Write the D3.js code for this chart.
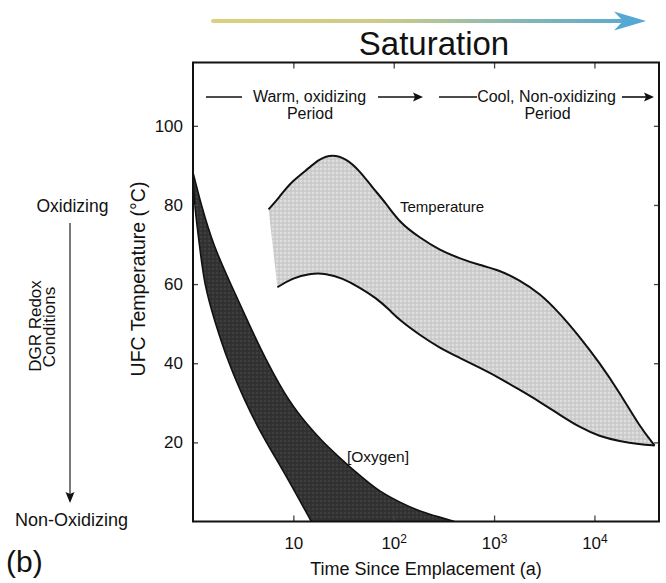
<!DOCTYPE html>
<html>
<head>
<meta charset="utf-8">
<script src="https://cdn.jsdelivr.net/npm/d3@7"></script>
<style>
  body { margin: 0; background: #fff; }
  svg { display: block; font-family: "Liberation Sans", Arial, sans-serif; }
</style>
</head>
<body>
<div id="chart"></div>
<script>
// values: [years since emplacement, value]
const tempUpper = [[5.66,78.9],[7.25,81.9],[9.12,85.4],[13.4,88.7],[18.2,91.7],[24.5,92.8],[33.6,91.7],[45.5,88.7],[61.4,84.4],[84,80.4],[114,75.6],[180,71.8],[286,68.6],[452,66.5],[715,64.8],[1132,63.5],[1791,61.0],[2838,57.7],[4487,52.7],[7110,46.7],[11250,40.1],[17820,32.6],[28200,24.0],[39800,19.2]];
const tempLower = [[6.93,59.2],[9.77,61.5],[14.5,62.7],[21.2,62.7],[30.8,61.5],[45.5,59.2],[66.7,56.5],[90.6,53.5],[114,50.9],[180,47.2],[286,43.9],[452,41.4],[715,38.9],[1057,36.7],[1791,33.3],[2838,30.3],[4487,27.0],[7110,23.8],[11250,21.5],[17820,20.3],[28200,19.5],[39800,19.2]];
const oxyUpper = [[1,88.2],[1.21,79.9],[1.59,69.8],[2.41,59.7],[3.64,49.7],[5.51,40.1],[9.12,30.1],[14.5,23.8],[19,20.5],[28.7,16.2],[36.1,13.9],[51,10.7],[72,7.6],[114,4.9],[180,2.6],[286,1.1],[403,0]];
const oxyLower = [[1,86],[1.05,78.6],[1.16,69.8],[1.30,59.7],[1.63,50.9],[2.25,40.1],[3.24,30.8],[4.80,22.0],[7.77,13.2],[10.7,6.9],[15.1,0]];

const xTicks = [10, 100, 1000, 10000];
const yTicks = [20, 40, 60, 80, 100];
const xDomain = [1, 44000];
const yDomain = [0, 116];

const width = 666;
const height = 583;
const margin = { top: 62.5, right: 7, bottom: 61.5, left: 193 };

const usableArea = {
  top: margin.top,
  right: width - margin.right,
  bottom: height - margin.bottom,
  left: margin.left,
  width: width - margin.left - margin.right,
  height: height - margin.top - margin.bottom,
};

const svg = d3.select('#chart')
  .append('svg')
  .attr('width', width)
  .attr('height', height);

const defs = svg.append('defs');

// stipple textures for the two bands
const light = defs.append('pattern').attr('id', 'light')
  .attr('width', 4).attr('height', 4).attr('patternUnits', 'userSpaceOnUse');
light.append('rect').attr('width', 4).attr('height', 4).attr('fill', '#cfcfcf');
light.append('circle').attr('cx', 1).attr('cy', 1).attr('r', 0.9).attr('fill', '#e6e6e6');
light.append('circle').attr('cx', 3).attr('cy', 3).attr('r', 0.7).attr('fill', '#bdbdbd');

const dark = defs.append('pattern').attr('id', 'dark')
  .attr('width', 4).attr('height', 4).attr('patternUnits', 'userSpaceOnUse');
dark.append('rect').attr('width', 4).attr('height', 4).attr('fill', '#333');
dark.append('circle').attr('cx', 1).attr('cy', 1).attr('r', 0.8).attr('fill', '#4d4d4d');
dark.append('circle').attr('cx', 3).attr('cy', 3).attr('r', 0.6).attr('fill', '#222');

// gradient in user space so it works on a zero-height line
const grad = defs.append('linearGradient').attr('id', 'sat')
  .attr('gradientUnits', 'userSpaceOnUse')
  .attr('x1', 213).attr('x2', 646).attr('y1', 0).attr('y2', 0);
grad.append('stop').attr('offset', '0%').attr('stop-color', '#dcd17f');
grad.append('stop').attr('offset', '40%').attr('stop-color', '#cccb87');
grad.append('stop').attr('offset', '70%').attr('stop-color', '#86b8b3');
grad.append('stop').attr('offset', '100%').attr('stop-color', '#55a7d4');

defs.append('clipPath').attr('id', 'plotClip')
  .append('rect')
  .attr('x', usableArea.left).attr('y', usableArea.top)
  .attr('width', usableArea.width).attr('height', usableArea.height);

// Scales
const xScale = d3.scaleLog().domain(xDomain).range([usableArea.left, usableArea.right]);
const yScale = d3.scaleLinear().domain(yDomain).range([usableArea.bottom, usableArea.top]);

const line = d3.line()
  .x((d) => xScale(d[0]))
  .y((d) => yScale(d[1]))
  .curve(d3.curveBasis);

function bandPath(a, b) {
  return line(a) + line(b.slice().reverse()).replace(/^M/, 'L') + 'Z';
}

const bands = svg.append('g').attr('clip-path', 'url(#plotClip)');

// Oxygen band
bands.append('path')
  .attr('d', bandPath(oxyUpper, oxyLower))
  .attr('fill', 'url(#dark)');
[oxyUpper, oxyLower].forEach((s) => {
  bands.append('path').attr('d', line(s))
    .attr('fill', 'none').attr('stroke', '#111').attr('stroke-width', 1.6);
});

// Temperature band
bands.append('path')
  .attr('d', bandPath(tempUpper, tempLower))
  .attr('fill', 'url(#light)');
[tempUpper, tempLower].forEach((s) => {
  bands.append('path').attr('d', line(s))
    .attr('fill', 'none').attr('stroke', '#111').attr('stroke-width', 2);
});

// Axes (ticks point inward)
function styleAxis(g) {
  g.select('.domain').remove();
  g.selectAll('.tick line').attr('stroke', '#444').attr('stroke-width', 1.3);
  g.selectAll('.tick text').attr('fill', '#111').style('font-size', '17px');
}

const xAxisBottom = svg.append('g')
  .attr('transform', `translate(0, ${usableArea.bottom})`)
  .call(d3.axisBottom(xScale).tickValues(xTicks).tickSize(-6).tickPadding(15))
  .call(styleAxis);

xAxisBottom.selectAll('.tick text').each(function (d) {
  const t = d3.select(this);
  const p = Math.round(Math.log10(d));
  t.text('10');
  if (p > 1) {
    t.append('tspan').attr('dy', '-0.45em').style('font-size', '12px').text(p);
  }
});

svg.append('g')
  .attr('transform', `translate(0, ${usableArea.top})`)
  .call(d3.axisTop(xScale).tickValues(xTicks).tickSize(-6).tickFormat(''))
  .call(styleAxis);

svg.append('g')
  .attr('transform', `translate(${usableArea.left}, 0)`)
  .call(d3.axisLeft(yScale).tickValues(yTicks).tickSize(-5).tickPadding(10))
  .call(styleAxis);

svg.append('g')
  .attr('transform', `translate(${usableArea.right}, 0)`)
  .call(d3.axisRight(yScale).tickValues(yTicks).tickSize(-5).tickFormat(''))
  .call(styleAxis);

// Frame
svg.append('rect')
  .attr('x', usableArea.left).attr('y', usableArea.top)
  .attr('width', usableArea.width).attr('height', usableArea.height)
  .attr('fill', 'none').attr('stroke', '#111').attr('stroke-width', 2);

// Axis titles
svg.append('text')
  .attr('x', (usableArea.left + usableArea.right) / 2)
  .attr('y', 575)
  .attr('text-anchor', 'middle')
  .style('font-size', '18px')
  .attr('fill', '#111')
  .text('Time Since Emplacement (a)');

svg.append('text')
  .attr('transform', 'translate(145, 279) rotate(-90)')
  .attr('text-anchor', 'middle')
  .style('font-size', '19.5px')
  .attr('fill', '#111')
  .text('UFC Temperature (\u00b0C)');

// Band labels
svg.append('text').attr('x', 400).attr('y', 212)
  .style('font-size', '15px').attr('fill', '#111').text('Temperature');
svg.append('text').attr('x', 347).attr('y', 462)
  .style('font-size', '15.5px').attr('fill', '#111').text('[Oxygen]');

// Period annotations
function arrowHead(g, tipX, yPos, len, half, color) {
  g.append('path')
    .attr('d', `M${tipX},${yPos}L${tipX - len},${yPos - half}L${tipX - len + 2},${yPos}L${tipX - len},${yPos + half}Z`)
    .attr('fill', color);
}

const periods = svg.append('g').attr('fill', '#111');
periods.append('line').attr('x1', 206).attr('x2', 242).attr('y1', 97).attr('y2', 97)
  .attr('stroke', '#111').attr('stroke-width', 1.6);
periods.append('line').attr('x1', 378).attr('x2', 416).attr('y1', 97).attr('y2', 97)
  .attr('stroke', '#111').attr('stroke-width', 1.6);
arrowHead(periods, 423, 97, 10, 4.5, '#111');
periods.append('text').attr('x', 309.5).attr('y', 102).attr('text-anchor', 'middle')
  .style('font-size', '16px').text('Warm, oxidizing');
periods.append('text').attr('x', 310).attr('y', 119).attr('text-anchor', 'middle')
  .style('font-size', '16px').text('Period');

periods.append('line').attr('x1', 439).attr('x2', 477).attr('y1', 97).attr('y2', 97)
  .attr('stroke', '#111').attr('stroke-width', 1.6);
periods.append('line').attr('x1', 622).attr('x2', 647).attr('y1', 97).attr('y2', 97)
  .attr('stroke', '#111').attr('stroke-width', 1.6);
arrowHead(periods, 654, 97, 10, 4.5, '#111');
periods.append('text').attr('x', 546.5).attr('y', 102).attr('text-anchor', 'middle')
  .style('font-size', '16px').text('Cool, Non-oxidizing');
periods.append('text').attr('x', 547.5).attr('y', 119).attr('text-anchor', 'middle')
  .style('font-size', '16px').text('Period');

// Saturation arrow
svg.append('line')
  .attr('x1', 213).attr('x2', 630).attr('y1', 21).attr('y2', 21)
  .attr('stroke', 'url(#sat)').attr('stroke-width', 4).attr('stroke-linecap', 'round');
svg.append('path')
  .attr('d', 'M646,21L614,11.5L623,21L614,30.5Z')
  .attr('fill', '#55a7d4');
svg.append('text')
  .attr('x', 434).attr('y', 55).attr('text-anchor', 'middle')
  .style('font-size', '33px').attr('fill', '#111')
  .text('Saturation');

// Redox conditions (left)
const redox = svg.append('g').attr('fill', '#111');
redox.append('text').attr('x', 72.5).attr('y', 212).attr('text-anchor', 'middle')
  .style('font-size', '17.5px').text('Oxidizing');
redox.append('line').attr('x1', 70).attr('x2', 70).attr('y1', 223).attr('y2', 494)
  .attr('stroke', '#333').attr('stroke-width', 1.3);
redox.append('path').attr('d', 'M70,503L65.5,492L70,494L74.5,492Z').attr('fill', '#111');
redox.append('text').attr('transform', 'translate(41, 326) rotate(-90)')
  .attr('text-anchor', 'middle').style('font-size', '17px').text('DGR Redox');
redox.append('text').attr('transform', 'translate(55, 327) rotate(-90)')
  .attr('text-anchor', 'middle').style('font-size', '17px').text('Conditions');
redox.append('text').attr('x', 71.5).attr('y', 526).attr('text-anchor', 'middle')
  .style('font-size', '18px').text('Non-Oxidizing');

svg.append('text').attr('x', 6).attr('y', 572)
  .style('font-size', '30px').attr('fill', '#111').text('(b)');
</script>
</body>
</html>
